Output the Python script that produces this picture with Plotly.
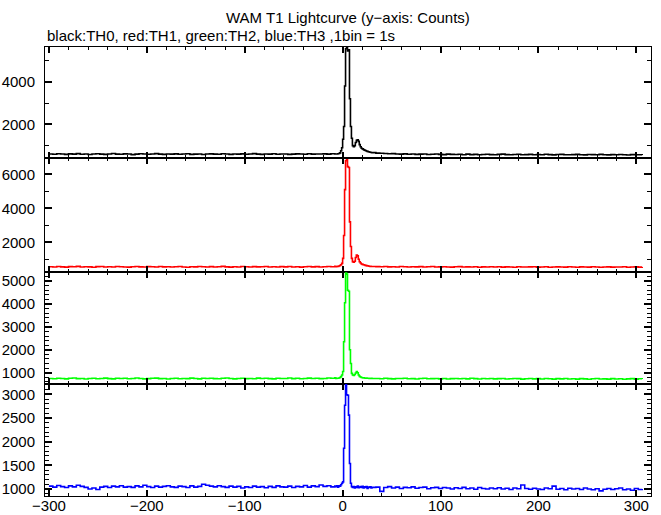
import plotly.graph_objects as go
from plotly.subplots import make_subplots

# Time bins (1 bin = 1 s; coarser sampling away from the burst)
TIME = list(range(-300, -7, 4)) + list(range(-7, 31)) + list(range(34, 307, 4))

TH0_COUNTS = [
    610, 595, 620, 605, 590, 615, 600, 625, 595, 610,
    585, 605, 620, 600, 590, 610, 630, 600, 595, 615,
    605, 580, 600, 620, 610, 595, 605, 625, 600, 590,
    610, 600, 615, 595, 605, 620, 590, 600, 610, 585,
    605, 615, 600, 595, 620, 605, 590, 610, 600, 615,
    595, 605, 625, 600, 590, 610, 600, 620, 595, 605,
    610, 590, 600, 615, 605, 595, 620, 600, 610, 605,
    615, 600, 620, 610,
    610, 605, 620, 630, 660, 760, 900,
    1300, 1900, 3800, 5550, 5600, 5450, 5500,
    3200, 1900, 1350, 1000, 950, 1000, 1150, 1250, 1280, 1200,
    1050, 950, 880, 850, 820, 790, 770, 750, 730, 715,
    700, 690, 680, 670,
    650, 640, 630, 620, 625, 610, 600, 615, 595, 605,
    590, 600, 610, 585, 595, 605, 590, 580, 600, 590,
    585, 595, 575, 600, 580, 590, 570, 585, 595, 580,
    575, 590, 600, 580, 570, 585, 595, 575, 580, 590,
    570, 585, 575, 595, 580, 565, 585, 590, 575, 570,
    580, 590, 575, 565, 585, 580, 570, 590, 575, 565,
    580, 570, 585, 575, 560, 580, 570, 575, 565,
]

TH1_COUNTS = [
    560, 545, 570, 550, 535, 565, 555, 580, 540, 560,
    550, 530, 565, 575, 545, 555, 540, 570, 560, 545,
    535, 560, 575, 550, 540, 565, 555, 545, 570, 550,
    560, 540, 555, 575, 545, 530, 560, 550, 570, 555,
    545, 565, 540, 555, 580, 550, 535, 560, 545, 570,
    555, 540, 565, 550, 560, 575, 545, 555, 540, 565,
    550, 570, 545, 560, 535, 555, 575, 550, 565, 545,
    560, 570, 555, 580,
    565, 575, 580, 600, 630, 680, 760,
    1050, 2400, 5100, 6800, 6850, 6450, 6400,
    3200, 1750, 1050, 850, 820, 880, 1100, 1250, 1200, 1000,
    850, 780, 720, 700, 680, 660, 640, 625, 610, 600,
    590, 580, 575, 570,
    565, 555, 570, 550, 560, 545, 575, 555, 540, 560,
    550, 565, 545, 555, 570, 540, 550, 560, 545, 535,
    555, 565, 540, 550, 545, 560, 530, 550, 545, 555,
    540, 560, 535, 550, 545, 530, 555, 545, 540, 550,
    560, 535, 545, 555, 530, 540, 550, 545, 535, 555,
    540, 530, 550, 545, 535, 560, 540, 530, 545, 550,
    535, 545, 540, 555, 530, 545, 550, 535, 540,
]

TH2_COUNTS = [
    750, 735, 760, 745, 730, 755, 770, 740, 750, 725,
    745, 760, 735, 750, 765, 740, 730, 755, 745, 760,
    735, 750, 770, 745, 730, 740, 755, 765, 740, 750,
    725, 745, 760, 735, 750, 740, 765, 745, 730, 755,
    745, 760, 740, 735, 755, 770, 745, 730, 750, 760,
    740, 750, 735, 765, 745, 755, 740, 730, 760, 750,
    745, 770, 740, 755, 735, 750, 765, 745, 760, 740,
    750, 770, 755, 780,
    750, 760, 755, 770, 790, 830, 900,
    1050, 2350, 4050, 5350, 5300, 4600, 4550,
    2000, 1400, 970, 900, 880, 920, 990, 1050, 1000, 900,
    840, 810, 790, 780, 775, 770, 760, 765, 755, 760,
    750, 745, 755, 750,
    745, 735, 755, 740, 730, 750, 745, 760, 735, 740,
    725, 745, 755, 735, 740, 750, 730, 745, 725, 740,
    750, 735, 745, 730, 755, 740, 725, 745, 735, 750,
    730, 740, 745, 725, 735, 750, 740, 720, 735, 745,
    730, 740, 725, 750, 735, 720, 740, 730, 745, 725,
    735, 720, 740, 730, 715, 735, 745, 725, 730, 720,
    740, 725, 735, 715, 730, 740, 720, 735, 725,
]

TH3_COUNTS = [
    1060, 1040, 1075, 1050, 1030, 1065, 1045, 1080, 1055, 1035,
    1000, 1020, 990, 1040, 1055, 1030, 1060, 1045, 1070, 1040,
    1050, 1035, 1065, 1045, 1080, 1050, 1030, 1060, 1040, 1055,
    1070, 1045, 1035, 1060, 1050, 1030, 1065, 1040, 1055, 1100,
    1080, 1060, 1045, 1070, 1050, 1035, 1060, 1040, 1055, 1020,
    1045, 1030, 1060, 1040, 1050, 1025, 1055, 1035, 1065, 1045,
    1040, 1060, 1030, 1055, 1045, 1075, 1040, 1065, 1050, 1085,
    1055, 1070, 1045, 1060,
    1050, 1065, 1040, 1070, 1060, 1090, 1120,
    1150, 1860, 2770, 3200, 2990, 2980, 2560,
    1540, 1120, 1050, 1030, 1050, 1020, 1045, 1035, 1060, 1025,
    1040, 1050, 1030, 1055, 1020, 1045, 1035, 1050, 1010, 1040,
    1030, 1045, 1020, 1035,
    1040, 950, 1030, 1050, 1020, 1040, 1010, 1035, 1025, 1045,
    1015, 1030, 1040, 1005, 1025, 1035, 1010, 1030, 1020, 1000,
    1025, 1010, 1035, 1005, 1020, 995, 1030, 1010, 1000, 1020,
    1005, 1025, 1000, 1015, 990, 1020, 1005, 1085, 1010, 995,
    1015, 1000, 990, 1020, 1005, 1060, 995, 1010, 985, 1015,
    1000, 1010, 990, 1020, 1000, 985, 1005, 960, 995, 1010,
    990, 1005, 1020, 985, 1000, 975, 1010, 990, 1000,
]

SERIES = [TH0_COUNTS, TH1_COUNTS, TH2_COUNTS, TH3_COUNTS]
COLORS = ["#000000", "#ff0000", "#00ff00", "#0000ff"]
Y_RANGES = [[420, 5630], [250, 6960], [507, 5393], [852, 3218]]
Y_DTICK = [2000, 2000, 1000, 500]
Y_MINOR = [1000, 1000, 200, 100]
X_RANGE = [-304, 315]

FONT = "Liberation Sans, Arial, Helvetica, sans-serif"

fig = make_subplots(rows=4, cols=1, shared_xaxes=True, vertical_spacing=0,
                    row_heights=[111, 114, 112, 112])

for i, (vals, col) in enumerate(zip(SERIES, COLORS)):
    fig.add_trace(go.Scatter(x=TIME, y=vals, mode="lines",
                             line=dict(color=col, width=1.6, shape="hv"),
                             showlegend=False, hoverinfo="skip"),
                  row=i + 1, col=1)

for i in range(4):
    fig.update_xaxes(range=X_RANGE, showline=True, linecolor="black", linewidth=1,
                     mirror="ticks", ticks="inside", ticklen=6, tickwidth=1.5,
                     tickcolor="black", tick0=0, dtick=100,
                     minor=dict(dtick=20, ticks="inside", ticklen=3, tickwidth=1,
                                tickcolor="black"),
                     showgrid=False, zeroline=False, automargin=False,
                     showticklabels=(i == 3), ticklabelstandoff=-4,
                     tickfont=dict(family=FONT, size=15, color="black"),
                     row=i + 1, col=1)
    fig.update_yaxes(range=Y_RANGES[i], showline=True, linecolor="black", linewidth=1,
                     mirror="ticks", ticks="inside", ticklen=7, tickwidth=2,
                     tickcolor="black", tick0=0, dtick=Y_DTICK[i],
                     minor=dict(dtick=Y_MINOR[i], ticks="inside", ticklen=4,
                                tickwidth=1, tickcolor="black"),
                     showgrid=False, zeroline=False, automargin=False,
                     ticklabelstandoff=6,
                     tickfont=dict(family=FONT, size=15, color="black"),
                     row=i + 1, col=1)

fig.update_layout(
    width=661, height=515,
    margin=dict(l=45, r=10, t=47, b=19),
    plot_bgcolor="white", paper_bgcolor="white",
    font=dict(family=FONT, size=15, color="black"),
    annotations=[
        dict(text="WAM T1 Lightcurve (y\u2212axis: Counts)", xref="paper", yref="paper",
             x=0.5, y=1.0668, xanchor="center", yanchor="middle", showarrow=False,
             font=dict(family=FONT, size=15, color="black")),
        dict(text="black:TH0, red:TH1, green:TH2, blue:TH3 ,1bin = 1s", xref="paper",
             yref="paper", x=0.0, y=1.0267, xanchor="left", yanchor="middle",
             showarrow=False, font=dict(family=FONT, size=15, color="black")),
    ],
)

# remove the default page margin so the figure sits at the window's corner
fig.write_html("out.html", config={"displayModeBar": False},
               post_script="document.body.style.margin='0';")
